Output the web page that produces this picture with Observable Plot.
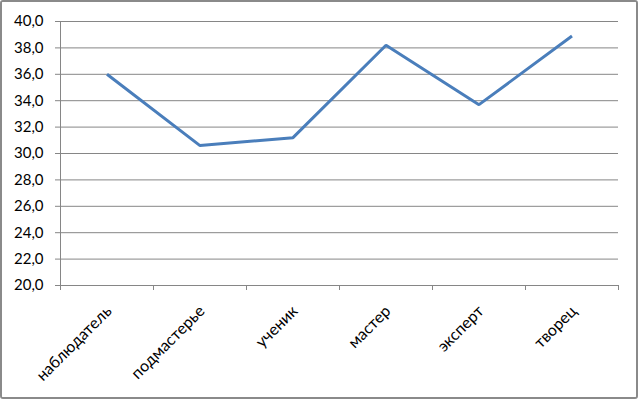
<!DOCTYPE html>
<html><head><meta charset="utf-8">
<script src="https://cdn.jsdelivr.net/npm/d3@7"></script>
<script src="https://cdn.jsdelivr.net/npm/@observablehq/plot@0.6"></script>
<style>
body{margin:0;background:#fff}
#chart{width:638px;height:399px;box-sizing:border-box;border:2px solid #8a8a8a;border-radius:3px;overflow:hidden;background:#fff}
#chart svg{display:block}
</style></head><body><div id="chart"></div>
<script>
const categories = ["наблюдатель", "подмастерье", "ученик", "мастер", "эксперт", "творец"];
const values = [36.0, 30.6, 31.2, 38.2, 33.7, 38.9];
const yTicks = [20, 22, 24, 26, 28, 30, 32, 34, 36, 38, 40];

const data = categories.map((c, i) => ({category: c, pos: i + 0.5, value: values[i]}));
const boundaries = d3.range(0, categories.length + 1);
const fmtY = d => d.toFixed(1).replace(".", ",");
const gridColor = "#868686";

const chart = Plot.plot({
  width: 634,
  height: 395,
  marginLeft: 58,
  marginRight: 18,
  marginTop: 19,
  marginBottom: 112,
  style: {fontFamily: "Lato, 'Open Sans', sans-serif", fontSize: "15px", color: "#000", background: "#fff"},
  x: {domain: [0, categories.length], axis: null},
  y: {domain: [20, 40], axis: null},
  marks: [
    Plot.gridY(yTicks, {stroke: gridColor, strokeOpacity: 1, strokeWidth: 1}),
    Plot.axisY(yTicks, {label: null, tickSize: 5, tickPadding: 12, tickFormat: fmtY, stroke: gridColor, fontSize: 15, fill: "#000"}),
    Plot.ruleX([0], {stroke: gridColor, strokeWidth: 1}),
    Plot.ruleY([20], {stroke: gridColor, strokeWidth: 1}),
    Plot.axisX(boundaries, {label: null, tickSize: 5, tickFormat: () => "", stroke: gridColor}),
    Plot.axisX(data.map(d => d.pos), {
      label: null, tickSize: 0, tickPadding: 23, tickRotate: -45, dx: 2,
      tickFormat: p => categories[Math.floor(p)], fontSize: 16, fill: "#000"
    }),
    Plot.line(data, {x: "pos", y: "value", stroke: "#4A7EBB", strokeWidth: 3, strokeLinejoin: "miter", strokeLinecap: "butt"})
  ]
});
document.getElementById("chart").append(chart);
</script>
</body></html>
